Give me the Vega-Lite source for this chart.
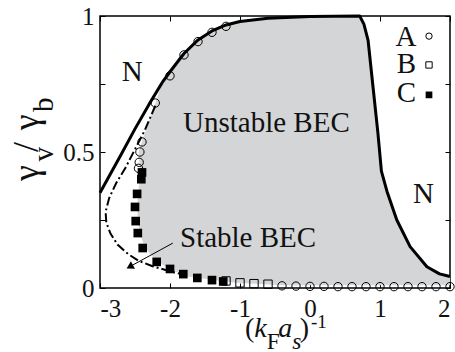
{
  "$schema": "https://vega.github.io/schema/vega-lite/v6.json",
  "width": 350,
  "height": 272,
  "autosize": {"type": "none"},
  "padding": {"left": 100, "top": 16, "right": 5, "bottom": 64},
  "background": "white",
  "config": {
    "view": {"stroke": "black", "strokeWidth": 1.5},
    "axis": {"domain": false, "grid": false, "tickColor": "black", "tickSize": -5, "tickWidth": 1, "labelFont": "Liberation Serif", "labelFontSize": 25, "labelColor": "#111", "title": null}
  },
  "datasets": {
    "fill": [
      {"y": 0.01, "xl": -0.4, "xr": 2.0},
      {"y": 0.02, "xl": -1.1, "xr": 2.0},
      {"y": 0.03, "xl": -1.4, "xr": 2.0},
      {"y": 0.042, "xl": -1.75, "xr": 2.0},
      {"y": 0.07, "xl": -2.0, "xr": 1.74},
      {"y": 0.1, "xl": -2.2, "xr": 1.6},
      {"y": 0.15, "xl": -2.36, "xr": 1.435},
      {"y": 0.2, "xl": -2.43, "xr": 1.337},
      {"y": 0.25, "xl": -2.46, "xr": 1.24},
      {"y": 0.3, "xl": -2.47, "xr": 1.176},
      {"y": 0.36, "xl": -2.45, "xr": 1.1},
      {"y": 0.42, "xl": -2.42, "xr": 1.02},
      {"y": 0.5, "xl": -2.45, "xr": 0.993},
      {"y": 0.57, "xl": -2.36, "xr": 0.97},
      {"y": 0.67, "xl": -2.22, "xr": 0.929},
      {"y": 0.765, "xl": -2.1, "xr": 0.89},
      {"y": 0.795, "xl": -2.0, "xr": 0.879},
      {"y": 0.862, "xl": -1.8, "xr": 0.85},
      {"y": 0.912, "xl": -1.6, "xr": 0.83},
      {"y": 0.945, "xl": -1.4, "xr": 0.783},
      {"y": 0.967, "xl": -1.2, "xr": 0.754},
      {"y": 0.98, "xl": -1.0, "xr": 0.737},
      {"y": 0.992, "xl": -0.6, "xr": 0.72},
      {"y": 1.0, "xl": 0.0, "xr": 0.71}
    ],
    "solid": [
      {"i": 1, "x": -3.0, "y": 0.35},
      {"i": 2, "x": -2.85, "y": 0.42},
      {"i": 3, "x": -2.7, "y": 0.49},
      {"i": 4, "x": -2.5, "y": 0.585},
      {"i": 5, "x": -2.3, "y": 0.675},
      {"i": 6, "x": -2.1, "y": 0.76},
      {"i": 7, "x": -2.0, "y": 0.795},
      {"i": 8, "x": -1.8, "y": 0.862},
      {"i": 9, "x": -1.6, "y": 0.912},
      {"i": 10, "x": -1.4, "y": 0.945},
      {"i": 11, "x": -1.2, "y": 0.967},
      {"i": 12, "x": -1.0, "y": 0.98},
      {"i": 13, "x": -0.6, "y": 0.992},
      {"i": 14, "x": 0.0, "y": 0.998},
      {"i": 15, "x": 0.71, "y": 1.0},
      {"i": 16, "x": 0.77, "y": 0.97},
      {"i": 17, "x": 0.83, "y": 0.91},
      {"i": 18, "x": 0.9, "y": 0.74},
      {"i": 19, "x": 0.97, "y": 0.57},
      {"i": 20, "x": 1.02, "y": 0.43},
      {"i": 21, "x": 1.1, "y": 0.355},
      {"i": 22, "x": 1.24, "y": 0.25},
      {"i": 23, "x": 1.43, "y": 0.152},
      {"i": 24, "x": 1.67, "y": 0.078},
      {"i": 25, "x": 1.85, "y": 0.052},
      {"i": 26, "x": 2.0, "y": 0.042}
    ],
    "dash": [
      {"i": 1, "x": -2.21, "y": 0.67},
      {"i": 2, "x": -2.36, "y": 0.58},
      {"i": 3, "x": -2.5, "y": 0.51},
      {"i": 4, "x": -2.64, "y": 0.44},
      {"i": 5, "x": -2.77, "y": 0.385},
      {"i": 6, "x": -2.87, "y": 0.33},
      {"i": 7, "x": -2.92, "y": 0.28},
      {"i": 8, "x": -2.91, "y": 0.24},
      {"i": 9, "x": -2.85, "y": 0.2},
      {"i": 10, "x": -2.75, "y": 0.16},
      {"i": 11, "x": -2.6, "y": 0.125},
      {"i": 12, "x": -2.45, "y": 0.1},
      {"i": 13, "x": -2.25, "y": 0.08},
      {"i": 14, "x": -2.05, "y": 0.065},
      {"i": 15, "x": -1.85, "y": 0.052}
    ],
    "pts": [
      {"s": "A", "k": "data", "x": -2.4, "y": 0.537},
      {"s": "A", "k": "data", "x": -2.43, "y": 0.5},
      {"s": "A", "k": "data", "x": -2.44, "y": 0.462},
      {"s": "A", "k": "data", "x": -2.45, "y": 0.44},
      {"s": "A", "k": "data", "x": -2.21, "y": 0.68},
      {"s": "A", "k": "data", "x": -2.0, "y": 0.78},
      {"s": "A", "k": "data", "x": -1.8, "y": 0.857},
      {"s": "A", "k": "data", "x": -1.6, "y": 0.906},
      {"s": "A", "k": "data", "x": -1.4, "y": 0.94},
      {"s": "A", "k": "data", "x": -1.2, "y": 0.962},
      {"s": "A", "k": "data", "x": -0.4, "y": 0.008},
      {"s": "A", "k": "data", "x": -0.2, "y": 0.007},
      {"s": "A", "k": "data", "x": 0.0, "y": 0.006},
      {"s": "A", "k": "data", "x": 0.2, "y": 0.006},
      {"s": "A", "k": "data", "x": 0.4, "y": 0.005},
      {"s": "A", "k": "data", "x": 0.6, "y": 0.005},
      {"s": "A", "k": "data", "x": 0.8, "y": 0.005},
      {"s": "A", "k": "data", "x": 1.0, "y": 0.005},
      {"s": "A", "k": "data", "x": 1.2, "y": 0.005},
      {"s": "A", "k": "data", "x": 1.4, "y": 0.005},
      {"s": "A", "k": "data", "x": 1.6, "y": 0.005},
      {"s": "A", "k": "data", "x": 1.8, "y": 0.005},
      {"s": "A", "k": "data", "x": 2.0, "y": 0.005},
      {"s": "A", "k": "legend", "x": 1.7, "y": 0.926},
      {"s": "B", "k": "data", "x": -1.2, "y": 0.026},
      {"s": "B", "k": "data", "x": -1.0, "y": 0.019},
      {"s": "B", "k": "data", "x": -0.8, "y": 0.016},
      {"s": "B", "k": "data", "x": -0.6, "y": 0.014},
      {"s": "B", "k": "legend", "x": 1.7, "y": 0.82},
      {"s": "C", "k": "data", "x": -2.4, "y": 0.425},
      {"s": "C", "k": "data", "x": -2.41, "y": 0.4},
      {"s": "C", "k": "data", "x": -2.47, "y": 0.346},
      {"s": "C", "k": "data", "x": -2.5, "y": 0.298},
      {"s": "C", "k": "data", "x": -2.49, "y": 0.246},
      {"s": "C", "k": "data", "x": -2.46, "y": 0.202},
      {"s": "C", "k": "data", "x": -2.39, "y": 0.147},
      {"s": "C", "k": "data", "x": -2.19, "y": 0.096},
      {"s": "C", "k": "data", "x": -2.0, "y": 0.07},
      {"s": "C", "k": "data", "x": -1.81, "y": 0.051},
      {"s": "C", "k": "data", "x": -1.61, "y": 0.037},
      {"s": "C", "k": "data", "x": -1.4, "y": 0.029},
      {"s": "C", "k": "data", "x": -1.24, "y": 0.024},
      {"s": "C", "k": "legend", "x": 1.7, "y": 0.71}
    ],
    "notes": [
      {"t": "N", "x": -2.69, "y": 0.76},
      {"t": "N", "x": 1.47, "y": 0.3125},
      {"t": "Unstable BEC", "x": -1.814, "y": 0.574},
      {"t": "Stable BEC", "x": -1.857, "y": 0.151},
      {"t": "A", "x": 1.22, "y": 0.89},
      {"t": "B", "x": 1.24, "y": 0.79},
      {"t": "C", "x": 1.24, "y": 0.684}
    ],
    "arrow": [
      {"x": -1.96, "y": 0.165, "x2": -2.55, "y2": 0.082}
    ],
    "head": [
      {"x": -2.575, "y": 0.078}
    ],
    "xtn": [
      {"t": "(", "x": -0.929, "y": -0.18, "r": "main"},
      {"t": "F", "x": -0.619, "y": -0.224, "r": "sub"},
      {"t": ")", "x": -0.147, "y": -0.18, "r": "main"},
      {"t": "-1", "x": 0.014, "y": -0.147, "r": "sup"}
    ],
    "xti": [
      {"t": "k", "x": -0.796, "y": -0.18, "r": "main"},
      {"t": "a", "x": -0.453, "y": -0.18, "r": "main"},
      {"t": "s", "x": -0.253, "y": -0.224, "r": "sub"}
    ],
    "yt": [
      {"t": "γ", "x": -3.886, "y": 0.393, "r": "main"},
      {"t": "v", "x": -3.671, "y": 0.465, "r": "sub"},
      {"t": "/", "x": -3.886, "y": 0.5, "r": "main"},
      {"t": "γ", "x": -3.886, "y": 0.58, "r": "main"},
      {"t": "b", "x": -3.671, "y": 0.647, "r": "sub"}
    ]
  },
  "layer": [
    {
      "data": {"name": "fill"},
      "mark": {"type": "area", "orient": "horizontal", "color": "#d4d5d7"},
      "encoding": {
        "y": {"field": "y", "type": "quantitative", "scale": {"domain": [0, 1], "nice": false, "zero": false},
              "axis": {"orient": "left", "values": [0, 0.25, 0.5, 0.75, 1], "labelPadding": 11,
                       "labelExpr": "datum.value == 0 ? '0' : datum.value == 0.5 ? '0.5' : datum.value == 1 ? '1' : ''"}},
        "x": {"field": "xl", "type": "quantitative", "scale": {"domain": [-3, 2], "nice": false, "zero": false},
              "axis": {"orient": "bottom", "values": [-3, -2, -1, 0, 1, 2], "labelPadding": 13,
                       "labelExpr": "datum.value < 0 ? '-' + abs(datum.value) : '' + datum.value"}},
        "x2": {"field": "xr"}
      }
    },
    {
      "data": {"name": "solid"},
      "mark": {"type": "line", "color": "black", "strokeWidth": 3, "strokeJoin": "round"},
      "encoding": {
        "x": {"field": "x", "type": "quantitative", "axis": {"orient": "top", "values": [-3, -2, -1, 0, 1, 2], "labels": false}},
        "y": {"field": "y", "type": "quantitative", "axis": {"orient": "right", "values": [0, 0.25, 0.5, 0.75, 1], "labels": false}},
        "order": {"field": "i", "type": "quantitative"}
      }
    },
    {
      "data": {"name": "dash"},
      "mark": {"type": "line", "color": "black", "strokeWidth": 2, "strokeDash": [9, 3, 2, 3]},
      "encoding": {
        "x": {"field": "x", "type": "quantitative", "axis": null},
        "y": {"field": "y", "type": "quantitative", "axis": null},
        "order": {"field": "i", "type": "quantitative"}
      }
    },
    {
      "data": {"name": "pts"},
      "transform": [{"filter": "datum.s == 'A'"}],
      "mark": {"type": "point", "shape": "circle", "filled": false, "stroke": "black", "strokeWidth": 1, "opacity": 1},
      "encoding": {
        "x": {"field": "x", "type": "quantitative", "axis": null},
        "y": {"field": "y", "type": "quantitative", "axis": null},
        "size": {"field": "k", "type": "nominal", "scale": {"domain": ["data", "legend"], "range": [70, 40]}, "legend": null}
      }
    },
    {
      "data": {"name": "pts"},
      "transform": [{"filter": "datum.s == 'B'"}],
      "mark": {"type": "point", "shape": "square", "filled": false, "stroke": "black", "strokeWidth": 1, "opacity": 1},
      "encoding": {
        "x": {"field": "x", "type": "quantitative", "axis": null},
        "y": {"field": "y", "type": "quantitative", "axis": null},
        "size": {"field": "k", "type": "nominal", "scale": {"domain": ["data", "legend"], "range": [70, 40]}, "legend": null}
      }
    },
    {
      "data": {"name": "pts"},
      "transform": [{"filter": "datum.s == 'C'"}],
      "mark": {"type": "point", "shape": "square", "filled": true, "color": "black", "opacity": 1},
      "encoding": {
        "x": {"field": "x", "type": "quantitative", "axis": null},
        "y": {"field": "y", "type": "quantitative", "axis": null},
        "size": {"field": "k", "type": "nominal", "scale": {"domain": ["data", "legend"], "range": [75, 45]}, "legend": null}
      }
    },
    {
      "data": {"name": "arrow"},
      "mark": {"type": "rule", "color": "black", "strokeWidth": 1},
      "encoding": {
        "x": {"field": "x", "type": "quantitative", "axis": null},
        "y": {"field": "y", "type": "quantitative", "axis": null},
        "x2": {"field": "x2"},
        "y2": {"field": "y2"}
      }
    },
    {
      "data": {"name": "head"},
      "mark": {"type": "point", "shape": "triangle-up", "angle": 241, "filled": true, "color": "black", "opacity": 1, "size": 70},
      "encoding": {
        "x": {"field": "x", "type": "quantitative", "axis": null},
        "y": {"field": "y", "type": "quantitative", "axis": null}
      }
    },
    {
      "data": {"name": "notes"},
      "mark": {"type": "text", "font": "Liberation Serif", "fontSize": 29, "align": "left", "baseline": "alphabetic", "color": "#111"},
      "encoding": {
        "x": {"field": "x", "type": "quantitative", "axis": null},
        "y": {"field": "y", "type": "quantitative", "axis": null},
        "text": {"field": "t"}
      }
    },
    {
      "data": {"name": "xtn"},
      "mark": {"type": "text", "font": "Liberation Serif", "align": "left", "baseline": "alphabetic", "color": "#111"},
      "encoding": {
        "x": {"field": "x", "type": "quantitative", "axis": null},
        "y": {"field": "y", "type": "quantitative", "axis": null},
        "text": {"field": "t"},
        "size": {"field": "r", "type": "nominal", "scale": {"domain": ["main", "sub", "sup"], "range": [28, 19, 16]}, "legend": null}
      }
    },
    {
      "data": {"name": "xti"},
      "mark": {"type": "text", "font": "Liberation Serif", "fontStyle": "italic", "align": "left", "baseline": "alphabetic", "color": "#111"},
      "encoding": {
        "x": {"field": "x", "type": "quantitative", "axis": null},
        "y": {"field": "y", "type": "quantitative", "axis": null},
        "text": {"field": "t"},
        "size": {"field": "r", "type": "nominal", "scale": {"domain": ["main", "sub", "sup"], "range": [28, 19, 16]}, "legend": null}
      }
    },
    {
      "data": {"name": "yt"},
      "mark": {"type": "text", "font": "Liberation Serif", "angle": 270, "align": "left", "baseline": "alphabetic", "color": "#111"},
      "encoding": {
        "x": {"field": "x", "type": "quantitative", "axis": null},
        "y": {"field": "y", "type": "quantitative", "axis": null},
        "text": {"field": "t"},
        "size": {"field": "r", "type": "nominal", "scale": {"domain": ["main", "sub", "sup"], "range": [36, 22, 17]}, "legend": null}
      }
    }
  ],
  "resolve": {"axis": {"x": "independent", "y": "independent"}, "scale": {"size": "independent"}}
}
